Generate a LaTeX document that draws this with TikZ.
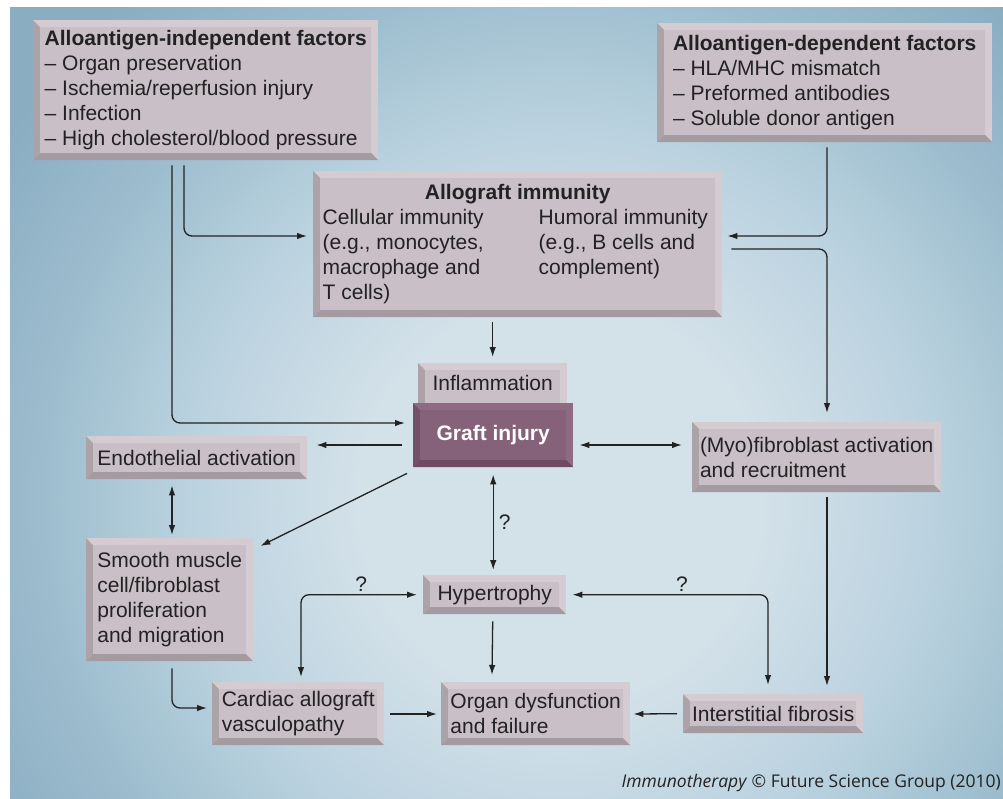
\documentclass[tikz,border=0pt]{standalone}
\usepackage{fontspec}
\setmainfont{Liberation Sans}
\newfontfamily\creditfont{Open Sans}
\usetikzlibrary{arrows.meta,calc}
\definecolor{bgin}{HTML}{D3E1E9}
\definecolor{bgmid}{HTML}{BAD2DF}
\definecolor{bgmid2}{HTML}{9DBDCE}
\definecolor{bgout}{HTML}{8AADC2}
\definecolor{bxface}{HTML}{C9BFC6}
\definecolor{bxlight}{HTML}{D5CCD2}
\definecolor{bxleft}{HTML}{ACA3A9}
\definecolor{bxbot}{HTML}{A49BA1}
\definecolor{grface}{HTML}{86617A}
\definecolor{grlight}{HTML}{8F6B83}
\definecolor{grleft}{HTML}{73506A}
\definecolor{grbot}{HTML}{6E4B63}
\definecolor{ink}{HTML}{222222}
\pgfdeclareradialshading{bgshade}{\pgfpoint{0bp}{0bp}}{color(0bp)=(bgin); color(6.3bp)=(bgin); color(11.7bp)=(bgmid); color(16.2bp)=(bgmid2); color(20.7bp)=(bgout); color(50bp)=(bgout)}
\tikzset{
  bevel/.style n args={4}{fill=#2, path picture={
    \path (path picture bounding box.south west) coordinate (bvSW)
          (path picture bounding box.north east) coordinate (bvNE);
    \fill[#3] (bvSW) -- (bvSW|-bvNE) -- ($(bvSW|-bvNE)+(7pt,-7pt)$) -- ($(bvSW)+(7pt,7pt)$) -- cycle;
    \fill[#4] (bvSW) -- ($(bvSW)+(7pt,7pt)$) -- ($(bvNE|-bvSW)+(-7pt,7pt)$) -- (bvNE|-bvSW) -- cycle;
    \fill[#1] ($(bvSW)+(7pt,7pt)$) rectangle ($(bvNE)+(-7pt,-7pt)$);
  }},
  bx/.style={rectangle, anchor=north west, inner sep=0pt, align=left, text=ink,
    font=\fontsize{21pt}{25pt}\selectfont, bevel={bxface}{bxlight}{bxleft}{bxbot}},
  grbx/.style={rectangle, anchor=north west, inner sep=0pt, align=center, text=white,
    font=\fontsize{21pt}{25pt}\selectfont\bfseries, bevel={grface}{grlight}{grleft}{grbot}},
  arr/.style={-{Latex[length=10pt,width=6.5pt]}, line width=1.3pt, draw=ink},
  darr/.style={{Latex[length=10pt,width=6.5pt]}-{Latex[length=10pt,width=6.5pt]}, line width=1.3pt, draw=ink},
  rc/.style={rounded corners=8pt},
  qm/.style={font=\fontsize{21pt}{25pt}\selectfont, text=ink, inner sep=2pt},
}
\begin{document}
\begin{tikzpicture}[x=1pt,y=-1pt]
\useasboundingbox (0,0) rectangle (1003,798);
\fill[white] (0,0) rectangle (1003,798);
\begin{scope}
\clip (10,7) rectangle (1003,798);
\fill[bgout] (10,7) rectangle (1003,798);
\shade[shading=bgshade] (560,500) circle (800);
\end{scope}

\node[bx, minimum width=345pt, minimum height=140pt] (ind) at (33,20)
  {\textbf{Alloantigen-independent factors}\\– Organ preservation\\– Ischemia/reperfusion injury\\– Infection\\– High cholesterol/blood pressure};
\node[bx, minimum width=335pt, minimum height=119pt] (dep) at (657,23)
  {\textbf{Alloantigen-dependent factors}\\– HLA/MHC mismatch\\– Preformed antibodies\\– Soluble donor antigen};
\node[bx, align=center, minimum width=409pt, minimum height=146pt] (allo) at (313,171)
  {\textbf{Allograft immunity}\\%
   \parbox[t]{216pt}{\raggedright Cellular immunity\\(e.g., monocytes,\\macrophage and\\T cells)}%
   \parbox[t]{174pt}{\raggedright Humoral immunity\\(e.g., B cells and\\complement)}};
\node[bx, align=center, minimum width=149pt, minimum height=48pt, text height=16pt, text depth=9pt] (infl) at (418,363) {Inflammation};
\node[grbx, minimum width=160pt, minimum height=64pt] (graft) at (413,403) {Graft injury};
\node[bx, minimum width=221pt, minimum height=43pt] (endo) at (86,436) {Endothelial activation};
\node[bx, minimum width=249pt, minimum height=70pt] (myo) at (692,422) {(Myo)fibroblast activation\\and recruitment};
\node[bx, minimum width=167pt, minimum height=123pt] (smc) at (86,538) {Smooth muscle\\cell/fibroblast\\proliferation\\and migration};
\node[bx, minimum width=143pt, minimum height=39pt] (hyp) at (423,575) {Hypertrophy};
\node[bx, minimum width=172pt, minimum height=63pt] (cav) at (212,682) {Cardiac allograft\\vasculopathy};
\node[bx, minimum width=189pt, minimum height=63pt] (org) at (441,682) {Organ dysfunction\\and failure};
\node[bx, minimum width=180pt, minimum height=39pt] (fib) at (683,694) {Interstitial fibrosis};

\node[anchor=base east, inner sep=0pt, text=ink, font=\creditfont\fontsize{17.5pt}{20pt}\selectfont] (credit) at (1001,787)
  {\textit{Immunotherapy} © Future Science Group (2010)};

% connectors
\draw[arr,rc] ($(ind.south west)+(139,5)$) |- ($(graft.north west)+(-8,20)$);
\draw[arr,rc] ($(ind.south west)+(151,5)$) |- ($(allo.north west)+(-6,65)$);
\draw[arr,rc] ($(dep.south west)+(170,5)$) |- ($(allo.north east)+(5,65)$);
\draw[arr,rc] ($(allo.north east)+(9,78)$) -| ($(myo.north west)+(135,-9)$);
\draw[arr] ($(allo.south -| infl.north)+(0,5)$) -- ($(infl.north)+(0,-6)$);
\draw[arr] ($(graft.north west)+(-11,42)$) -- ($(endo.north east)+(9,9)$);
\draw[darr] ($(graft.north east)+(6,42)$) -- ($(myo.north west)+(-10,23)$);
\draw[arr] ($(graft.south west)+(-6,6)$) -- ($(smc.north east)+(7,8)$);
\draw[darr] ($(endo.south west)+(86,6)$) -- ($(smc.north west)+(86,-3)$);
\draw[darr] ($(graft.south)+(0,7)$) -- node[qm, right=3pt] (q1) {?} ($(hyp.north -| graft.south)+(0,-5)$);
\draw[darr,rc] ($(hyp.west)+(-6,0)$) -| node[qm, pos=0.24, above=1pt] (q2) {?} ($(cav.north west)+(89,-5)$);
\draw[darr,rc] ($(hyp.east)+(6,0)$) -| node[qm, pos=0.28, above=1pt] (q3) {?} ($(fib.north west)+(85,-9)$);
\draw[arr] ($(myo.south west)+(135,5)$) -- ($(fib.north west)+(144,-8)$);
\draw[arr] ($(hyp.south)+(-2,7)$) -- ($(org.north west)+(51,-7)$);
\draw[arr] ($(cav.north east)+(6,32)$) -- ($(org.north west)+(-4,32)$);
\draw[arr] ($(fib.west)+(-6,0)$) -- ($(org.north east)+(3,32)$);
\draw[arr,rc] ($(smc.south west)+(86,7)$) |- ($(cav.north west)+(-5,26)$);
\end{tikzpicture}
\end{document}
